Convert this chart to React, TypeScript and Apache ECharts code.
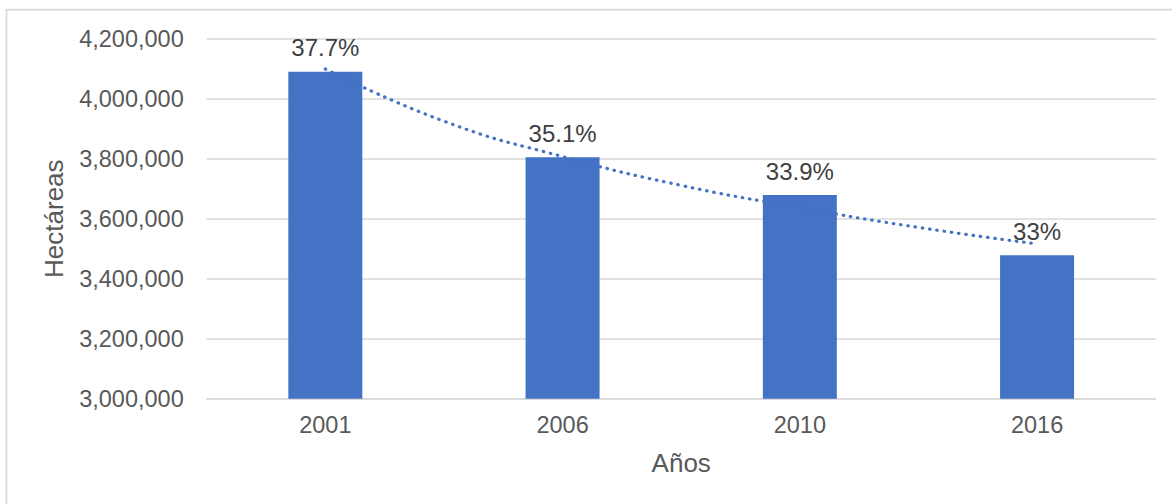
import React, { useEffect, useRef } from "react";
import * as echarts from "echarts";

const categories = ["2001", "2006", "2010", "2016"];
const hectareas = [4090000, 3805000, 3679000, 3478000];
const percentLabels = ["37.7%", "35.1%", "33.9%", "33%"];
// trend line (dotted) at category positions
const trendPositions = [0, 0.5, 1, 1.5, 2, 2.5, 3];
const trendValues = [4099000, 3925000, 3807000, 3711000, 3637000, 3571000, 3516000];
const yMin = 3000000;
const yMax = 4200000;
const yInterval = 200000;

const FONT = "'Liberation Sans', Arial, sans-serif";
const BLUE = "#4472C4";

export default function App() {
  const ref = useRef<HTMLDivElement>(null);
  useEffect(() => {
    if (!ref.current) return;
    const chart = echarts.init(ref.current, null, { renderer: "svg" });
    chart.setOption({
      animation: false,
      backgroundColor: "#ffffff",
      textStyle: { fontFamily: FONT },
      graphic: [
        {
          type: "rect",
          shape: { x: 6.5, y: 9.5, width: 1200, height: 600 },
          style: { fill: "none", stroke: "#d9d9d9", lineWidth: 1.75 },
          silent: true,
        },
      ],
      grid: { left: 206.7, right: 16.3, top: 38.7, bottom: 105.3 },
      xAxis: [
        {
          type: "category",
          data: categories,
          name: "Años",
          nameLocation: "middle",
          nameGap: 51,
          nameTextStyle: { fontSize: 26, color: "#595959", fontFamily: FONT },
          axisLine: { lineStyle: { color: "#d9d9d9", width: 1.5 } },
          axisTick: { show: false },
          axisLabel: { fontSize: 23.5, color: "#595959", margin: 14, fontFamily: FONT },
        },
        {
          type: "value",
          min: -0.5,
          max: 3.5,
          show: false,
        },
      ],
      yAxis: {
        type: "value",
        min: yMin,
        max: yMax,
        interval: yInterval,
        name: "Hectáreas",
        nameLocation: "middle",
        nameGap: 140,
        nameTextStyle: { fontSize: 26, color: "#595959", fontFamily: FONT },
        axisLine: { show: false },
        axisTick: { show: false },
        splitLine: { lineStyle: { color: "#d9d9d9", width: 1.5 } },
        axisLabel: {
          fontSize: 23.5,
          color: "#595959",
          margin: 23,
          fontFamily: FONT,
          formatter: (v: number) => v.toLocaleString("en-US"),
        },
      },
      series: [
        {
          type: "bar",
          xAxisIndex: 0,
          data: hectareas,
          barWidth: 74,
          itemStyle: { color: BLUE },
          label: {
            show: true,
            position: "top",
            distance: 12,
            fontSize: 24,
            color: "#404040",
            fontFamily: FONT,
            formatter: (p: any) => percentLabels[p.dataIndex],
          },
        },
        {
          type: "line",
          xAxisIndex: 1,
          data: trendPositions.map((p, i) => [p, trendValues[i]]),
          smooth: true,
          symbol: "none",
          z: 5,
          lineStyle: { color: BLUE, width: 3.2, type: [0.5, 6.8], cap: "round" },
        },
      ],
    });
    return () => chart.dispose();
  }, []);
  return (
    <div
      ref={ref}
      style={{ position: "absolute", left: 0, top: 0, width: 1172, height: 504 }}
    />
  );
}
